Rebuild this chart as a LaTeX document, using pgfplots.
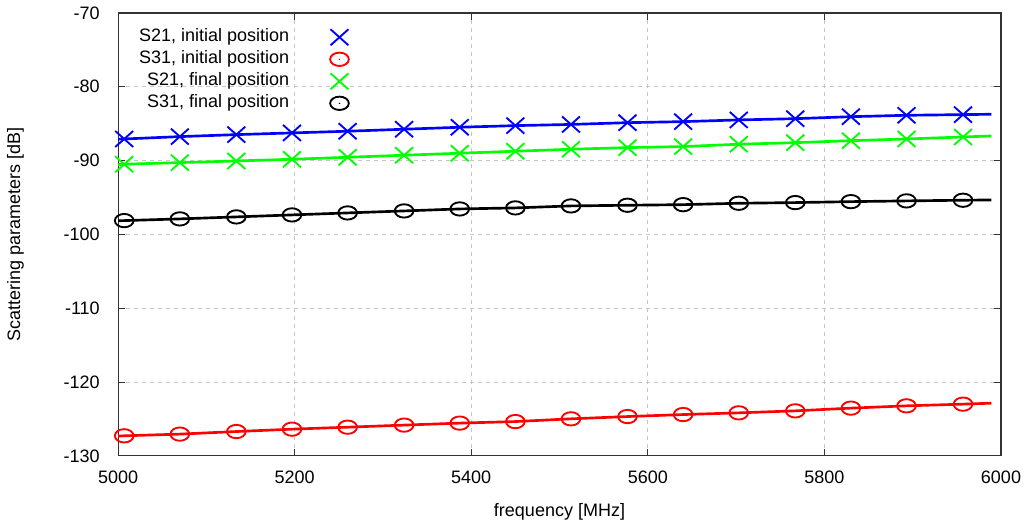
\documentclass[border=0pt]{standalone}
\usepackage{fontspec}
\setmainfont{Liberation Sans}
\usepackage{pgfplots}
\pgfplotsset{compat=1.18}
\usepackage{pgfplotstable}
\pgfdeclareplotmark{odot}{%
  \pgfpathcircle{\pgfpointorigin}{\pgfplotmarksize}\pgfusepathqstroke
  \pgfpathcircle{\pgfpointorigin}{0.5pt}\pgfusepathqfill}
\pgfdeclareplotmark{oo}{%
  \pgfpathcircle{\pgfpointorigin}{\pgfplotmarksize}\pgfusepathqstroke}
\pgfdeclareplotmark{X}{%
  \pgfpathmoveto{\pgfqpoint{-\pgfplotmarksize}{-\pgfplotmarksize}}%
  \pgfpathlineto{\pgfqpoint{\pgfplotmarksize}{\pgfplotmarksize}}%
  \pgfpathmoveto{\pgfqpoint{-\pgfplotmarksize}{\pgfplotmarksize}}%
  \pgfpathlineto{\pgfqpoint{\pgfplotmarksize}{-\pgfplotmarksize}}%
  \pgfusepathqstroke}

\pgfplotstableread{
x b g k r
5000 -87.10 -90.55 -98.15 -127.33
5007 -87.07 -90.49 -98.13 -127.29
5070 -86.75 -90.27 -97.90 -127.06
5134 -86.48 -90.05 -97.63 -126.71
5197 -86.25 -89.82 -97.36 -126.39
5260 -86.02 -89.55 -97.09 -126.12
5324 -85.75 -89.27 -96.82 -125.84
5387 -85.48 -89.00 -96.55 -125.57
5450 -85.26 -88.73 -96.41 -125.36
5513 -85.10 -88.46 -96.14 -124.99
5577 -84.86 -88.24 -96.05 -124.68
5640 -84.72 -88.10 -95.97 -124.41
5703 -84.49 -87.78 -95.78 -124.18
5767 -84.32 -87.57 -95.69 -123.91
5830 -84.05 -87.30 -95.56 -123.54
5893 -83.86 -87.07 -95.46 -123.23
5957 -83.77 -86.80 -95.37 -123.00
5989 -83.72 -86.66 -95.33 -122.87
}\data

\begin{document}
\begin{tikzpicture}
\begin{axis}[
  scale only axis, width=662pt, height=332pt,
  xmin=5000, xmax=6000, ymin=-130, ymax=-70,
  xtick={5000,5200,...,6000}, ytick={-130,-120,...,-70},
  /pgf/number format/assume math mode=true,
  /pgf/number format/set thousands separator={},
  tick align=inside, major tick length=5pt,
  tick style={black!80, line width=0.6pt},
  grid=major, grid style={dashed, gray!45, line width=0.5pt},
  axis line style={line width=0.8pt, black!80},
  ticklabel style={font=\fontsize{13.5}{15}\selectfont},
  yticklabel style={inner sep=0pt, xshift=-13.5pt},
  xticklabel style={inner sep=0pt, yshift=-11pt},
  xlabel={frequency [MHz]}, ylabel={Scattering parameters [dB]},
  label style={font=\fontsize{13.5}{15}\selectfont},
  xlabel style={at={(axis description cs:0.5,-0.1265)}, anchor=center},
  ylabel style={at={(axis description cs:-0.1163,0.5)}, anchor=center},
  legend cell align=right, legend plot pos=right,
  legend style={draw=none, fill=none, inner sep=0pt, outer sep=0pt,
    font=\fontsize{13.5}{15}\selectfont,
    nodes={inner sep=0pt, text height=11.5pt, text depth=5pt},
    at={(axis description cs:0.0238,0.970)}, anchor=north west},
  legend image code/.code={\path (0pt,0pt) (46pt,0pt); \draw[#1] plot coordinates {(37.5pt,0pt)};},
  xmark/.style={mark=X, mark size=6pt, mark options={xscale=1.12, line width=1.4pt}},
  cmark/.style={mark=#1, mark size=5pt, mark options={xscale=1.4, line width=1.4pt}},
  mi/.style={mark indices={2,3,4,5,6,7,8,9,10,11,12,13,14,15,16,17}},
]
\addlegendimage{only marks, blue, xmark}
\addlegendentry{S21, initial position}
\addlegendimage{only marks, red, cmark=odot}
\addlegendentry{S31, initial position}
\addlegendimage{only marks, green, xmark}
\addlegendentry{S21, final position}
\addlegendimage{only marks, black, cmark=odot}
\addlegendentry{S31, final position}

\addplot[forget plot, blue, line width=2pt, xmark, mi] table[x=x,y=b] {\data};
\addplot[forget plot, red, line width=2pt, cmark=oo, mi] table[x=x,y=r] {\data};
\addplot[forget plot, green, line width=2pt, xmark, mi] table[x=x,y=g] {\data};
\addplot[forget plot, black, line width=2pt, cmark=oo, mi] table[x=x,y=k] {\data};
\end{axis}
\pgfresetboundingbox
\useasboundingbox ([shift={(-88.5pt,-52.5pt)}]current axis.south west) rectangle ([shift={(17.25pt,9.75pt)}]current axis.north east);
\end{tikzpicture}
\end{document}
